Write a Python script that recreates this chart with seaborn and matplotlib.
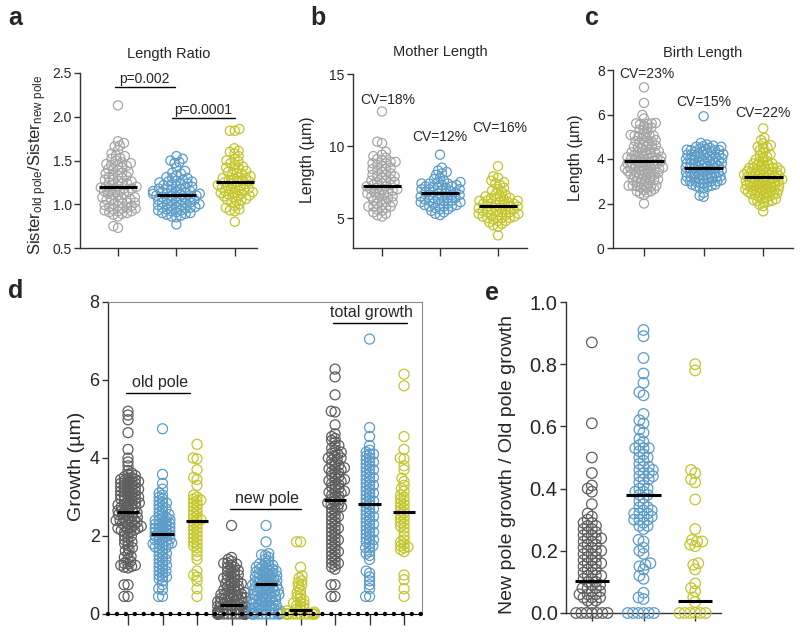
import numpy as np
import pandas as pd
import matplotlib
matplotlib.use('Agg')
import matplotlib.pyplot as plt
from matplotlib.collections import PathCollection
import seaborn as sns

sns.set_style('ticks')
plt.rcParams['font.family'] = ['Liberation Sans', 'DejaVu Sans']
plt.rcParams['mathtext.default'] = 'regular'

GREY = '#a6a6a6'
DARK = '#5e5e5e'
BLUE = '#5c9cc8'
YELLOW = '#c4c62c'
AXCOL = '#333333'

# ---- Panel a: length ratio
a_grey = [2.13, 1.72, 1.70, 1.67, 1.66, 1.62, 1.58, 1.56, 1.55, 1.53, 1.52, 1.50, 1.48, 1.47,
          1.46, 1.45, 1.44, 1.42, 1.40, 1.39, 1.37, 1.35, 1.34, 1.33, 1.31, 1.30, 1.28, 1.27,
          1.26, 1.25, 1.24, 1.22, 1.21, 1.20, 1.19, 1.18, 1.17, 1.16, 1.15, 1.14, 1.12, 1.11,
          1.10, 1.08, 1.07, 1.06, 1.05, 1.04, 1.02, 1.01, 1.00, 0.99, 0.98, 0.97, 0.96, 0.95,
          0.94, 0.93, 0.92, 0.91, 0.90, 0.89, 0.88, 0.86, 0.75, 0.73,
          1.45, 1.40, 1.36, 1.32, 1.28, 1.24, 1.20, 1.18, 1.15, 1.12, 1.08, 1.05, 1.02, 0.98,
          0.95, 0.92]
a_blue = [1.55, 1.52, 1.50, 1.48, 1.47, 1.42, 1.38, 1.36, 1.35, 1.33, 1.31, 1.30, 1.28, 1.27,
          1.26, 1.25, 1.24, 1.23, 1.22, 1.21, 1.20, 1.19, 1.18, 1.17, 1.16, 1.15, 1.15, 1.14,
          1.13, 1.12, 1.12, 1.11, 1.10, 1.10, 1.09, 1.08, 1.07, 1.06, 1.05, 1.05, 1.04, 1.03,
          1.02, 1.01, 1.00, 1.00, 0.99, 0.98, 0.97, 0.97, 0.96, 0.95, 0.94, 0.93, 0.92, 0.91,
          0.90, 0.89, 0.88, 0.87, 0.86, 0.85, 0.77,
          1.30, 1.26, 1.22, 1.18, 1.15, 1.12, 1.10, 1.08, 1.05, 1.02, 0.99, 0.96, 0.93, 0.90]
a_yellow = [1.86, 1.84, 1.84, 1.64, 1.61, 1.60, 1.58, 1.55, 1.52, 1.50, 1.49, 1.47, 1.45, 1.43,
            1.41, 1.40, 1.38, 1.37, 1.35, 1.34, 1.32, 1.31, 1.30, 1.29, 1.28, 1.27, 1.26, 1.25,
            1.24, 1.23, 1.22, 1.21, 1.20, 1.19, 1.18, 1.17, 1.16, 1.15, 1.14, 1.13, 1.12, 1.11,
            1.10, 1.09, 1.08, 1.06, 1.05, 1.04, 1.02, 1.00, 0.98, 0.96, 0.94, 0.93, 0.92, 0.80,
            1.42, 1.36, 1.30, 1.25, 1.21, 1.17, 1.13, 1.09, 1.05]
a_means = [1.20, 1.11, 1.25]

# ---- Panel b: mother length
b_grey = [12.4, 10.3, 10.2, 9.6, 9.4, 9.3, 9.2, 9.1, 9.0, 8.9, 8.9, 8.8, 8.7, 8.6, 8.5, 8.4,
          8.3, 8.2, 8.1, 8.0, 7.9, 7.9, 7.8, 7.7, 7.6, 7.5, 7.5, 7.4, 7.3, 7.2, 7.2, 7.1, 7.0,
          7.0, 6.9, 6.8, 6.8, 6.7, 6.6, 6.5, 6.5, 6.4, 6.3, 6.2, 6.1, 6.0, 5.9, 5.8, 5.8, 5.7,
          5.6, 5.5, 5.4, 5.3, 5.2, 5.1,
          8.8, 8.4, 8.0, 7.6, 7.3, 7.0, 6.7, 6.4, 6.1, 5.8]
b_blue = [9.4, 8.5, 8.3, 8.2, 8.1, 8.0, 7.8, 7.7, 7.6, 7.5, 7.5, 7.4, 7.4, 7.3, 7.3, 7.2, 7.2,
          7.1, 7.1, 7.0, 7.0, 6.9, 6.9, 6.8, 6.8, 6.7, 6.7, 6.6, 6.6, 6.5, 6.5, 6.4, 6.4, 6.3,
          6.3, 6.2, 6.2, 6.1, 6.1, 6.0, 6.0, 5.9, 5.9, 5.8, 5.8, 5.7, 5.6, 5.5, 5.4, 5.3, 5.2,
          7.4, 7.2, 7.0, 6.8, 6.6, 6.4, 6.2, 6.0, 5.8, 5.6]
b_yellow = [8.6, 7.9, 7.8, 7.6, 7.5, 7.4, 7.3, 7.1, 7.0, 6.9, 6.8, 6.7, 6.6, 6.5, 6.5, 6.4, 6.3,
            6.3, 6.2, 6.2, 6.1, 6.1, 6.0, 6.0, 5.9, 5.9, 5.8, 5.8, 5.7, 5.7, 5.6, 5.6, 5.5, 5.5,
            5.4, 5.4, 5.3, 5.3, 5.2, 5.2, 5.1, 5.1, 5.0, 5.0, 4.9, 4.8, 4.7, 4.6, 4.5, 4.4, 3.8,
            6.4, 6.2, 6.0, 5.8, 5.6, 5.4, 5.2, 5.0, 4.8]
b_means = [7.24, 6.71, 5.86]
b_cv = ['CV=18%', 'CV=12%', 'CV=16%']

# ---- Panel c: birth length
c_grey = [7.22, 6.52, 5.98, 5.82, 5.62, 5.60, 5.58, 5.55, 5.50, 5.42, 5.38, 5.32, 5.20, 5.12,
          5.08, 5.05, 5.02, 4.98, 4.92, 4.85, 4.78, 4.72, 4.70, 4.65, 4.60, 4.55, 4.50, 4.48,
          4.42, 4.38, 4.35, 4.32, 4.28, 4.25, 4.22, 4.18, 4.15, 4.12, 4.10, 4.08, 4.05, 4.02,
          4.00, 3.98, 3.95, 3.92, 3.90, 3.88, 3.85, 3.82, 3.80, 3.78, 3.75, 3.72, 3.70, 3.68,
          3.65, 3.62, 3.60, 3.58, 3.55, 3.52, 3.50, 3.48, 3.45, 3.42, 3.40, 3.38, 3.35, 3.32,
          3.30, 3.25, 3.22, 3.18, 3.15, 3.12, 3.08, 3.05, 3.02, 2.98, 2.95, 2.90, 2.85, 2.80,
          2.78, 2.75, 2.72, 2.70, 2.65, 2.60, 2.55, 2.50, 2.45, 2.38, 2.00,
          5.60, 5.30, 5.05, 5.05, 4.80, 4.80, 4.55, 4.55, 4.30, 4.30, 4.05, 4.05, 3.80, 3.80,
          3.55, 3.55, 3.30, 3.30, 3.05, 3.05, 2.80, 2.80, 2.55]
c_blue = [5.92, 4.72, 4.65, 4.60, 4.58, 4.55, 4.50, 4.48, 4.45, 4.42, 4.40, 4.35, 4.32, 4.30,
          4.28, 4.25, 4.22, 4.20, 4.18, 4.15, 4.12, 4.10, 4.08, 4.05, 4.02, 4.00, 3.98, 3.95,
          3.92, 3.90, 3.88, 3.85, 3.82, 3.80, 3.78, 3.75, 3.72, 3.70, 3.68, 3.65, 3.62, 3.60,
          3.58, 3.55, 3.52, 3.50, 3.48, 3.45, 3.42, 3.40, 3.38, 3.35, 3.32, 3.30, 3.28, 3.25,
          3.22, 3.20, 3.18, 3.15, 3.12, 3.10, 3.08, 3.05, 3.02, 3.00, 2.98, 2.95, 2.92, 2.90,
          2.85, 2.80, 2.78, 2.75, 2.72, 2.70, 2.48, 2.35, 2.30,
          4.55, 4.40, 4.40, 4.20, 4.20, 4.00, 4.00, 3.80, 3.80, 3.60, 3.60, 3.40, 3.40, 3.20,
          3.20, 3.00, 3.00, 2.85]
c_yellow = [5.38, 4.95, 4.85, 4.70, 4.62, 4.55, 4.52, 4.48, 4.40, 4.30, 4.20, 4.15, 4.10, 4.05,
            3.98, 3.92, 3.88, 3.85, 3.80, 3.75, 3.72, 3.70, 3.65, 3.62, 3.60, 3.55, 3.52, 3.50,
            3.48, 3.45, 3.42, 3.40, 3.38, 3.35, 3.32, 3.30, 3.28, 3.25, 3.22, 3.20, 3.18, 3.15,
            3.12, 3.10, 3.08, 3.05, 3.02, 3.00, 2.98, 2.95, 2.92, 2.90, 2.88, 2.85, 2.82, 2.80,
            2.78, 2.75, 2.72, 2.70, 2.68, 2.65, 2.62, 2.60, 2.58, 2.55, 2.52, 2.50, 2.48, 2.45,
            2.42, 2.40, 2.35, 2.30, 2.25, 2.20, 2.15, 2.12, 2.10, 2.08, 2.05, 1.95, 1.88, 1.65,
            3.80, 3.60, 3.60, 3.40, 3.40, 3.20, 3.20, 3.00, 3.00, 2.80, 2.80, 2.60, 2.60, 2.40,
            2.40, 2.20]
c_means = [3.91, 3.60, 3.20]
c_cv = ['CV=23%', 'CV=15%', 'CV=22%']

# ---- Panel d: growth of old pole / new pole / total
d_old_grey = [5.20, 5.10, 4.98, 4.65, 4.22, 4.00, 3.90, 3.80, 3.68, 3.62, 3.58, 3.55, 3.52, 3.50,
              3.48, 3.45, 3.42, 3.40, 3.38, 3.35, 3.32, 3.30, 3.28, 3.25, 3.22, 3.20, 3.18, 3.15,
              3.12, 3.10, 3.08, 3.05, 3.02, 3.00, 2.98, 2.95, 2.92, 2.90, 2.88, 2.85, 2.82, 2.80,
              2.78, 2.75, 2.72, 2.70, 2.68, 2.65, 2.62, 2.60, 2.58, 2.55, 2.52, 2.50, 2.48, 2.45,
              2.42, 2.40, 2.38, 2.35, 2.32, 2.30, 2.28, 2.25, 2.22, 2.20, 2.18, 2.15, 2.12, 2.10,
              2.05, 2.00, 1.95, 1.90, 1.85, 1.80, 1.75, 1.70, 1.62, 1.55, 1.48, 1.42, 1.35, 1.30,
              1.28, 1.25, 1.22, 1.20, 1.18, 0.75, 0.75, 0.45, 0.45,
              3.45, 3.35, 3.25, 3.15, 3.05, 2.95, 2.85, 2.75, 2.65, 2.55, 2.45, 2.35, 2.25, 2.15,
              3.40, 3.20, 3.00, 2.80, 2.60, 2.40, 2.20, 2.00, 1.85, 1.65, 1.45, 1.25]
d_old_blue = [4.75, 3.58, 3.35, 3.20, 3.10, 3.05, 3.00, 2.95, 2.90, 2.85, 2.80, 2.75, 2.70, 2.65,
              2.60, 2.55, 2.50, 2.48, 2.45, 2.42, 2.40, 2.38, 2.35, 2.32, 2.30, 2.28, 2.25, 2.22,
              2.20, 2.18, 2.15, 2.12, 2.10, 2.08, 2.05, 2.02, 2.00, 1.98, 1.95, 1.92, 1.90, 1.88,
              1.85, 1.82, 1.80, 1.78, 1.75, 1.72, 1.70, 1.65, 1.60, 1.55, 1.50, 1.45, 1.40, 1.35,
              1.30, 1.25, 1.20, 1.15, 1.10, 1.05, 1.00, 0.95, 0.90, 0.85, 0.75, 0.65, 0.62, 0.45,
              0.45,
              2.85, 2.70, 2.55, 2.40, 2.30, 2.20, 2.10, 2.00, 1.90, 1.80, 1.70, 1.55, 1.40, 1.25,
              1.10, 0.95]
d_old_yellow = [4.35, 4.00, 3.98, 3.70, 3.50, 3.45, 3.30, 3.05, 3.00, 2.95, 2.92, 2.90, 2.85, 2.80,
                2.75, 2.70, 2.65, 2.60, 2.55, 2.50, 2.45, 2.42, 2.40, 2.35, 2.30, 2.25, 2.20, 2.15,
                2.10, 2.05, 2.00, 1.95, 1.90, 1.85, 1.80, 1.75, 1.70, 1.60, 1.50, 1.40, 1.10, 1.00,
                0.95, 0.85, 0.65, 0.45]
d_new_grey = [2.27, 1.45, 1.40, 1.35, 1.30, 1.28, 1.25, 1.20, 1.15, 1.12, 1.10, 1.05, 1.00, 0.98,
              0.95, 0.90, 0.88, 0.85, 0.80, 0.78, 0.75, 0.72, 0.70, 0.65, 0.62, 0.60, 0.55, 0.52,
              0.50, 0.48, 0.45, 0.42, 0.40, 0.38, 0.35, 0.32, 0.30, 0.28, 0.25, 0.22, 0.20, 0.18,
              0.15, 0.12, 0.10, 0.08, 0.05, 0.03, 0.02, 0.01,
              1.30, 1.20, 1.10, 1.00, 0.92, 0.85, 0.78, 0.70, 0.62, 0.55, 0.48, 0.42, 0.36, 0.30,
              0.25, 0.20, 0.16, 0.12, 0.08, 0.05, 0.60, 0.50, 0.40, 0.32, 0.24, 0.18, 0.12, 0.07,
              0.04, 0.02,
              0, 0, 0, 0, 0, 0, 0, 0, 0, 0, 0, 0, 0, 0, 0, 0]
d_new_blue = [2.27, 1.85, 1.55, 1.52, 1.50, 1.45, 1.40, 1.35, 1.30, 1.28, 1.25, 1.22, 1.20, 1.18,
              1.15, 1.12, 1.10, 1.08, 1.05, 1.02, 1.00, 0.98, 0.95, 0.92, 0.90, 0.88, 0.85, 0.82,
              0.80, 0.78, 0.75, 0.72, 0.70, 0.68, 0.65, 0.62, 0.60, 0.58, 0.55, 0.52, 0.50, 0.48,
              0.45, 0.42, 0.40, 0.38, 0.35, 0.32, 0.30, 0.28, 0.25, 0.22, 0.20, 0.18, 0.15, 0.12,
              0.10, 0.08, 0.05, 0.03,
              1.25, 1.15, 1.05, 0.98, 0.92, 0.86, 0.80, 0.74, 0.68, 0.62, 0.56, 0.50, 0.44, 0.38,
              0.32, 0.26, 0.20, 0.14, 0.08, 1.10, 0.95, 0.82, 0.70, 0.58, 0.46, 0.34, 0.22, 0.10,
              0, 0, 0, 0, 0, 0, 0, 0, 0, 0]
d_new_yellow = [1.85, 1.85, 1.20, 0.98, 0.92, 0.85, 0.80, 0.75, 0.70, 0.62, 0.55, 0.50, 0.45,
                0.40, 0.35, 0.30, 0.28, 0.25, 0.22, 0.20, 0.15, 0.12, 0.10, 0.08, 0.05,
                0, 0, 0, 0, 0, 0, 0, 0, 0, 0, 0, 0]
d_tot_grey = [6.28, 6.08, 5.62, 5.20, 5.18, 4.85, 4.62, 4.55, 4.50, 4.45, 4.40, 4.32, 4.25, 4.20,
              4.15, 4.10, 4.05, 4.00, 3.95, 3.90, 3.85, 3.80, 3.75, 3.70, 3.65, 3.60, 3.55, 3.50,
              3.45, 3.40, 3.35, 3.30, 3.25, 3.20, 3.15, 3.10, 3.05, 3.00, 2.95, 2.90, 2.85, 2.80,
              2.75, 2.70, 2.65, 2.60, 2.55, 2.50, 2.45, 2.40, 2.35, 2.30, 2.25, 2.20, 2.15, 2.10,
              2.05, 2.00, 1.95, 1.90, 1.85, 1.80, 1.75, 1.70, 1.65, 1.60, 1.55, 1.50, 1.45, 1.40,
              1.35, 1.30, 1.25, 1.20, 1.15, 0.75, 0.75, 0.45, 0.45,
              4.12, 3.98, 3.82, 3.72, 3.62, 3.52, 3.42, 3.32, 3.22, 3.12, 3.02, 2.92, 2.82, 2.72,
              4.30, 4.00, 3.70, 3.40, 3.10, 2.80, 2.50, 2.20, 1.90, 1.60, 1.30]
d_tot_blue = [7.05, 4.78, 4.55, 4.32, 4.20, 4.15, 4.10, 4.05, 4.00, 3.95, 3.90, 3.85, 3.80, 3.75,
              3.70, 3.65, 3.60, 3.55, 3.50, 3.45, 3.40, 3.35, 3.30, 3.25, 3.20, 3.15, 3.10, 3.05,
              3.00, 2.95, 2.90, 2.85, 2.80, 2.75, 2.70, 2.65, 2.60, 2.55, 2.50, 2.45, 2.40, 2.35,
              2.30, 2.25, 2.20, 2.15, 2.10, 2.05, 2.00, 1.95, 1.90, 1.85, 1.80, 1.75, 1.70, 1.60,
              1.50, 1.40, 1.10, 1.05, 0.95, 0.85, 0.75, 0.65, 0.45, 0.45,
              4.10, 3.90, 3.70, 3.50, 3.30, 3.10, 2.90, 2.70, 2.50, 2.30, 2.10, 1.90, 1.70, 1.55]
d_tot_yellow = [6.15, 5.85, 4.55, 4.22, 4.00, 3.98, 3.80, 3.70, 3.48, 3.40, 3.30, 3.22, 3.15, 3.05,
                3.00, 2.95, 2.90, 2.85, 2.80, 2.75, 2.70, 2.65, 2.60, 2.55, 2.50, 2.45, 2.40, 2.35,
                2.30, 2.25, 2.20, 2.10, 2.00, 1.90, 1.85, 1.80, 1.75, 1.72, 1.70, 1.65, 1.60, 1.00,
                0.88, 0.65, 0.45]
d_means = [2.61, 2.05, 2.39, 0.23, 0.76, 0.10, 2.92, 2.81, 2.61]

# ---- Panel e: ratio new pole / old pole growth
e_grey = [0.87, 0.61, 0.50, 0.45, 0.41, 0.40, 0.39, 0.35, 0.32, 0.31, 0.30, 0.29, 0.28, 0.27,
          0.26, 0.25, 0.24, 0.23, 0.22, 0.21, 0.20, 0.19, 0.18, 0.17, 0.16, 0.15, 0.14, 0.13,
          0.12, 0.11, 0.10, 0.09, 0.08, 0.07, 0.06, 0.05, 0.04, 0.03,
          0.28, 0.26, 0.24, 0.22, 0.20, 0.18, 0.16, 0.14, 0.12, 0.10, 0.08, 0.06, 0.05, 0.04,
          0.27, 0.23, 0.19, 0.15, 0.11, 0.07, 0.25, 0.21, 0.17, 0.13, 0.09, 0.05,
          0.29, 0.24, 0.20, 0.16, 0.12, 0.08, 0.06,
          0, 0, 0, 0, 0, 0, 0]
e_blue = [0.91, 0.89, 0.82, 0.77, 0.74, 0.71, 0.70, 0.64, 0.62, 0.61, 0.59, 0.58, 0.56, 0.55,
          0.54, 0.53, 0.52, 0.51, 0.50, 0.49, 0.48, 0.47, 0.46, 0.45, 0.44, 0.43, 0.42, 0.41,
          0.40, 0.39, 0.38, 0.37, 0.36, 0.35, 0.34, 0.33, 0.32, 0.31, 0.30, 0.29, 0.28, 0.27,
          0.53, 0.47, 0.45, 0.43, 0.39, 0.33, 0.32, 0.31, 0.30,
          0.53, 0.50, 0.46, 0.44, 0.40, 0.38, 0.34, 0.32, 0.30, 0.28,
          0.235, 0.23, 0.21, 0.20, 0.19, 0.16, 0.155, 0.15, 0.14, 0.12, 0.11, 0.065, 0.05, 0.045,
          0, 0, 0, 0, 0, 0]
e_yellow = [0.80, 0.78, 0.46, 0.45, 0.43, 0.42, 0.365, 0.27, 0.235, 0.23, 0.23, 0.22, 0.215,
            0.16, 0.155, 0.14, 0.095, 0.08, 0.07, 0.05, 0.035,
            0, 0, 0, 0, 0, 0]
e_means = [0.104, 0.38, 0.037]

fig = plt.figure(figsize=(8, 6.33), dpi=100)


def px_axes(left, top, right, bottom):
    return fig.add_axes([left / 800, 1 - bottom / 633, (right - left) / 800, (bottom - top) / 633])


def swarm(ax, groups, colors, size=3.0):
    names = ['g%d' % i for i in range(len(groups))]
    df = pd.DataFrame({'group': np.repeat(names, [len(g) for g in groups]),
                       'value': np.concatenate(groups)})
    sns.swarmplot(data=df, x='group', y='value', hue='group', order=names, hue_order=names,
                  palette=colors, size=size, linewidth=0.5, legend=False,
                  warn_thresh=1, ax=ax)


def mean_lines(ax, means):
    xs = np.arange(len(means))
    ax.hlines(means, xs - 0.33, xs + 0.33, color='black', lw=2.2, zorder=10)


def style(ax, xlim, ylim, yticks, ylab, labsize, ticksize, lab_xy):
    ax.set_xlim(xlim)
    ax.set_ylim(ylim)
    ax.set_yticks(yticks)
    ax.set_xlabel('')
    ax.set_xticklabels([])
    ax.set_ylabel(ylab, fontsize=labsize, va='center')
    ax.yaxis.set_label_coords(*lab_xy)
    sns.despine(ax=ax)
    for s in ['left', 'bottom']:
        ax.spines[s].set_color(AXCOL)
        ax.spines[s].set_linewidth(1.0)
    ax.tick_params(axis='y', length=4, width=1, color=AXCOL, labelsize=ticksize, pad=2)
    ax.tick_params(axis='x', length=6, width=1, color=AXCOL)


# Panel a
ax_a = px_axes(80, 73, 257, 248)
swarm(ax_a, [a_grey, a_blue, a_yellow], [GREY, BLUE, YELLOW], size=2.9)
mean_lines(ax_a, a_means)
style(ax_a, (-0.65, 2.38), (0.5, 2.5), [0.5, 1.0, 1.5, 2.0, 2.5],
      'Sister$_{old\\ pole}$/Sister$_{new\\ pole}$', 12, 10, (-0.237, 0.474))
ax_a.set_title('Length Ratio', fontsize=10.5, pad=11)
ax_a.plot([-0.05, 0.97], [2.34, 2.34], color='black', lw=1, clip_on=False)
ax_a.text(0.46, 2.35, 'p=0.002', ha='center', va='bottom', fontsize=10)
ax_a.plot([0.92, 2.0], [1.99, 1.99], color='black', lw=1, clip_on=False)
ax_a.text(1.46, 2.0, 'p=0.0001', ha='center', va='bottom', fontsize=10)

# Panel b
ax_b = px_axes(353, 74, 527, 248)
swarm(ax_b, [b_grey, b_blue, b_yellow], [GREY, BLUE, YELLOW], size=2.9)
mean_lines(ax_b, b_means)
style(ax_b, (-0.5, 2.5), (2.92, 15), [5, 10, 15], 'Length (µm)', 11.5, 10, (-0.26, 0.51))
ax_b.set_title('Mother Length', fontsize=10.5, pad=13)
for x, y, t in zip([0.1, 1.0, 2.03], [13.2, 10.6, 11.25], b_cv):
    ax_b.text(x, y, t, ha='center', va='center', fontsize=10)

# Panel c
ax_c = px_axes(613, 70, 793, 248)
swarm(ax_c, [c_grey, c_blue, c_yellow], [GREY, BLUE, YELLOW], size=2.3)
mean_lines(ax_c, c_means)
style(ax_c, (-0.52, 2.5), (0, 8), [0, 2, 4, 6, 8], 'Length (µm)', 11.5, 10, (-0.21, 0.51))
ax_c.set_title('Birth Length', fontsize=10.5, pad=9)
for x, y, t in zip([0.05, 1.0, 2.0], [7.8, 6.56, 6.07], c_cv):
    ax_c.text(x, y, t, ha='center', va='center', fontsize=10)

# Panel d
ax_d = px_axes(108, 302, 422, 614)
swarm(ax_d, [d_old_grey, d_old_blue, d_old_yellow, d_new_grey, d_new_blue, d_new_yellow,
             d_tot_grey, d_tot_blue, d_tot_yellow],
      [DARK, BLUE, YELLOW, DARK, BLUE, YELLOW, DARK, BLUE, YELLOW], size=2.2)
mean_lines(ax_d, d_means)
style(ax_d, (-0.58, 8.52), (0, 8), [0, 2, 4, 6, 8], 'Growth (µm)', 14, 13, (-0.099, 0.474))
sns.despine(ax=ax_d, top=False, right=False)
ax_d.spines['top'].set_color('#8a8a8a')
ax_d.spines['right'].set_color('#8a8a8a')
ax_d.spines['bottom'].set_visible(False)
ax_d.axhline(0, color='black', lw=0.8, clip_on=False, zorder=11)
ax_d.axhline(0, color='black', lw=3.2, ls=(0, (0.01, 2.0)), dash_capstyle='round',
             clip_on=False, zorder=11)
ax_d.tick_params(axis='x', length=8)
for x0, x1, y, t in [(-0.06, 1.8, 5.67, 'old pole'), (2.96, 5.01, 2.69, 'new pole'),
                     (5.94, 8.09, 7.46, 'total growth')]:
    ax_d.plot([x0, x1], [y, y], color='black', lw=1, clip_on=False)
    ax_d.text((x0 + x1) / 2 + 0.05, y + 0.08, t, ha='center', va='bottom', fontsize=11.5)

# Panel e
ax_e = px_axes(566, 302, 721, 613)
swarm(ax_e, [e_grey, e_blue, e_yellow], [DARK, BLUE, YELLOW], size=3.1)
mean_lines(ax_e, e_means)
style(ax_e, (-0.5, 2.5), (0, 1.0), [0.0, 0.2, 0.4, 0.6, 0.8, 1.0],
      'New pole growth / Old pole growth', 14, 14.5, (-0.38, 0.476))

# panel letters
for x, y, t in [(8, 18, 'a'), (310, 18, 'b'), (585, 18, 'c'), (8, 291, 'd'), (485, 293, 'e')]:
    fig.text(x / 800, 1 - y / 633, t, fontsize=18, fontweight='bold', ha='left', va='center')

# first draw lays out the swarms with small markers, then enlarge them as open circles
fig.canvas.draw()
final_size = {ax_a: 6.6, ax_b: 6.6, ax_c: 6.6, ax_d: 7.2, ax_e: 7.6}
for ax in fig.axes:
    for coll in ax.collections:
        if not isinstance(coll, PathCollection):
            continue
        if 'draw' in coll.__dict__:
            del coll.draw
        fc = coll.get_facecolor()
        coll.set_sizes([final_size[ax] ** 2])
        coll.set_edgecolor(fc)
        coll.set_facecolor('none')
        coll.set_linewidth(0.9)
        coll.set_clip_on(False)

fig.savefig('out.png', dpi=100)
